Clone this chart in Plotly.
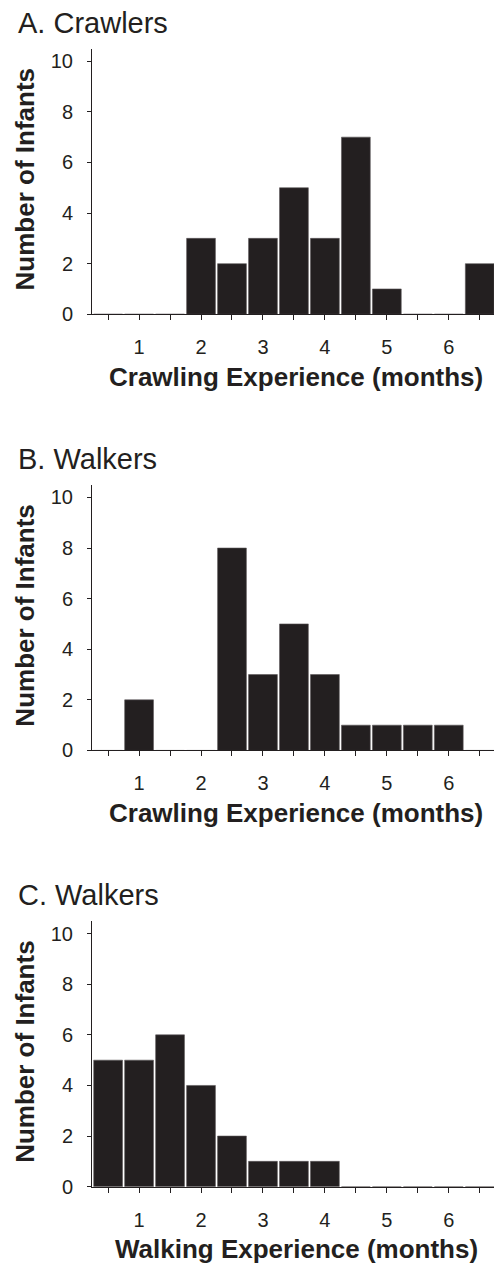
import plotly.graph_objects as go

# ---- data ----
bin_centers = [0.5, 1.0, 1.5, 2.0, 2.5, 3.0, 3.5, 4.0, 4.5, 5.0, 5.5, 6.0, 6.5]
crawlers_crawling = [0, 0, 0, 3, 2, 3, 5, 3, 7, 1, 0, 0, 2]
walkers_crawling = [0, 2, 0, 0, 8, 3, 5, 3, 1, 1, 1, 1, 0]
walkers_walking = [5, 5, 6, 4, 2, 1, 1, 1, 0, 0, 0, 0, 0]

panel_titles = ["A. Crawlers", "B. Walkers", "C. Walkers"]
x_titles = ["Crawling Experience (months)", "Crawling Experience (months)", "Walking Experience (months)"]
y_title = "Number of Infants"

x_tickvals = [0.5, 1, 1.5, 2, 2.5, 3, 3.5, 4, 4.5, 5, 5.5, 6, 6.5]
x_ticktext = ["", "1", "", "2", "", "3", "", "4", "", "5", "", "6", ""]
y_tickvals = [0, 2, 4, 6, 8, 10]

series = [crawlers_crawling, walkers_crawling, walkers_walking]

# ---- layout geometry (pixels) ----
W, H = 495, 1274
FONT = "Liberation Sans, Arial, Helvetica, sans-serif"
INK = "#231f20"
plot_left, plot_right = 92, 494
panel_top, panel_bottom = 49, 317
panel_step = 440

fig = go.Figure()
annotations = []
layout_axes = {}

for i, vals in enumerate(series):
    k = i + 1
    xa = "x" if k == 1 else f"x{k}"
    ya = "y" if k == 1 else f"y{k}"
    fig.add_trace(go.Bar(
        x=bin_centers, y=vals, width=0.465,
        marker=dict(color=INK, line=dict(width=0.6, color="#5a5657")),
        xaxis=xa, yaxis=ya, showlegend=False, hoverinfo="skip",
    ))
    off = panel_step * i
    top = panel_top + off
    bottom = panel_bottom + off
    xkey = "xaxis" if k == 1 else f"xaxis{k}"
    ykey = "yaxis" if k == 1 else f"yaxis{k}"
    layout_axes[xkey] = dict(
        domain=[plot_left / W, plot_right / W],
        anchor=ya, range=[0.24, 6.73],
        tickmode="array", tickvals=x_tickvals, ticktext=x_ticktext,
        ticks="outside", ticklen=5, tickwidth=1, tickcolor=INK,
        showline=True, linecolor=INK, linewidth=1,
        showgrid=False, zeroline=False,
        tickfont=dict(family=FONT, size=20, color=INK),
        ticklabelstandoff=10,
    )
    layout_axes[ykey] = dict(
        domain=[1 - bottom / H, 1 - top / H],
        anchor=xa, range=[0, 10.5],
        tickmode="array", tickvals=y_tickvals,
        ticks="outside", ticklen=4, tickwidth=1, tickcolor=INK,
        showline=True, linecolor=INK, linewidth=1,
        showgrid=False, zeroline=False,
        tickfont=dict(family=FONT, size=20, color=INK),
        ticklabelstandoff=10,
    )
    annotations.append(dict(
        text=panel_titles[i], xref="paper", yref="paper",
        x=16 / W, y=1 - (23 + off) / H, xanchor="left", yanchor="middle",
        showarrow=False, font=dict(family=FONT, size=29, color=INK),
    ))
    annotations.append(dict(
        text=f"<b>{x_titles[i]}</b>", xref="paper", yref="paper",
        x=296 / W, y=1 - (380 + off) / H, xanchor="center", yanchor="middle",
        showarrow=False, font=dict(family=FONT, size=26, color=INK),
    ))
    annotations.append(dict(
        text=f"<b>{y_title}</b>", xref="paper", yref="paper",
        x=25 / W, y=1 - (181 + off) / H, xanchor="center", yanchor="middle",
        textangle=-90,
        showarrow=False, font=dict(family=FONT, size=26, color=INK),
    ))

fig.update_layout(
    width=W, height=H,
    margin=dict(l=0, r=0, t=0, b=0),
    paper_bgcolor="white", plot_bgcolor="white",
    bargap=0,
    annotations=annotations,
    **layout_axes,
)

fig.write_html(
    "out.html",
    config={"displayModeBar": False, "staticPlot": True},
    post_script="document.body.style.margin='0';document.body.style.overflow='hidden';",
)
